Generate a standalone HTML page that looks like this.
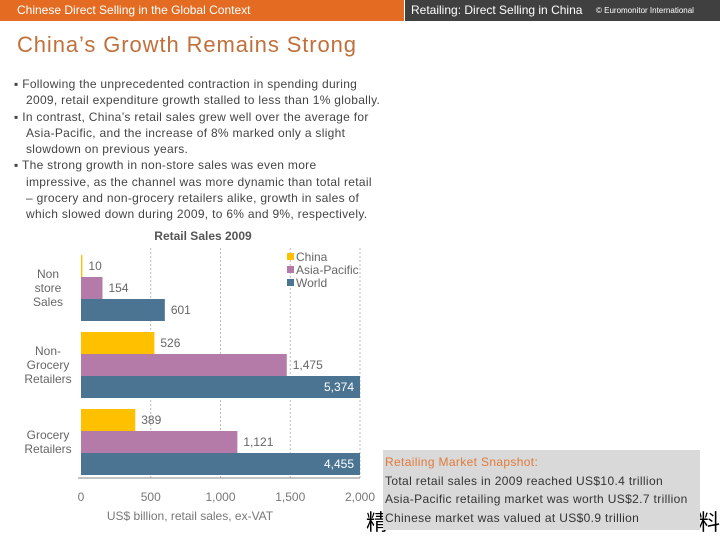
<!DOCTYPE html>
<html><head><meta charset="utf-8">
<style>
body{margin:0;width:720px;height:540px;background:#fff;position:relative;overflow:hidden;font-family:"Liberation Sans","Noto Sans CJK SC",sans-serif}
.hdr1{position:absolute;left:0;top:0;width:404px;height:21px;background:#e36c22;color:#fff;font-size:12px;line-height:21px;padding-left:17px;box-sizing:border-box}
.hdr2{position:absolute;left:405px;top:0;width:315px;height:21px;background:#404040;color:#fff;font-size:12px;line-height:21px;padding-left:6px;box-sizing:border-box}
.hdr2 small{font-size:8px;position:absolute;left:191px}
h1{position:absolute;left:17px;top:32px;margin:0;font-weight:normal;font-size:22px;letter-spacing:0.9px;color:#c0703a}
ul{position:absolute;left:14px;top:76px;margin:0;padding:0;list-style:none;width:385px;font-size:12px;line-height:16.3px;color:#444;letter-spacing:0.3px}
li{padding-left:12px;text-indent:-12px}
.snap{position:absolute;left:383px;top:450px;width:317px;height:80px;background:#d9d9d9;font-size:12px;line-height:18.5px;color:#333;padding:3px 0 0 2px;box-sizing:border-box;letter-spacing:0.35px;white-space:nowrap}
.snap .t{color:#e07b3c}
.cjk{position:absolute;top:505px;font-size:22px;color:#000}
</style></head><body>
<div class="hdr1">Chinese Direct Selling in the Global Context</div>
<div class="hdr2">Retailing: Direct Selling in China<small>© Euromonitor International</small></div>
<h1>China’s Growth Remains Strong</h1>
<ul>
<li>▪ Following the unprecedented contraction in spending during<br>2009, retail expenditure growth stalled to less than 1% globally.</li>
<li>▪ In contrast, China’s retail sales grew well over the average for<br>Asia-Pacific, and the increase of 8% marked only a slight<br>slowdown on previous years.</li>
<li>▪ The strong growth in non-store sales was even more<br>impressive, as the channel was more dynamic than total retail<br>– grocery and non-grocery retailers alike, growth in sales of<br>which slowed down during 2009, to 6% and 9%, respectively.</li>
</ul>
<svg id="chart" width="720" height="540" style="position:absolute;left:0;top:0" font-family="Liberation Sans, sans-serif"></svg>
<div class="cjk" style="left:366px">精</div>
<div class="cjk" style="left:698px">料</div>
<div class="snap">
<div class="t">Retailing Market Snapshot:</div>
<div>Total retail sales in 2009 reached US$10.4 trillion</div>
<div>Asia-Pacific retailing market was worth US$2.7 trillion</div>
<div>Chinese market was valued at US$0.9 trillion</div>
</div>
<script>
const categories=[["Non","store","Sales"],["Non-","Grocery","Retailers"],["Grocery","Retailers"]];
const seriesNames=["China","Asia-Pacific","World"];
const china=[10,526,389];
const asiaPacific=[154,1475,1121];
const world=[601,5374,4455];
const tickValues=[0,500,1000,1500,2000];
const tickLabels=["0","500","1,000","1,500","2,000"];
const colors=["#ffc000","#b47aa8","#4a7492"];
const svg=document.getElementById('chart');
const NS='http://www.w3.org/2000/svg';
const x0=81,x1=360,vmax=2000;
const xs=v=>x0+(Math.min(v,vmax)/vmax)*(x1-x0);
const groupTop=[255,332,409],barH=22;
function mk(t,a,txt){const e=document.createElementNS(NS,t);for(const k in a)e.setAttribute(k,a[k]);if(txt!==undefined)e.textContent=txt;svg.appendChild(e);return e;}
let e=mk('text',{x:203,y:240,'text-anchor':'middle','font-size':12,'font-weight':'bold',fill:'#555'},'Retail Sales 2009');


tickValues.forEach((v,i)=>{
 if(i>0){const g=mk('line',{x1:xs(v),x2:xs(v),y1:248,y2:478,stroke:'#bbb','stroke-dasharray':'2,2'});
 
 }
 const t=mk('text',{x:xs(v),y:501,'text-anchor':'middle','font-size':12,fill:'#777'},tickLabels[i]);
 
 
});
e=mk('line',{x1:78,x2:360,y1:478,y2:478,stroke:'#888'});


e=mk('text',{x:190,y:520,'text-anchor':'middle','font-size':12,fill:'#777'},'US$ billion, retail sales, ex-VAT');


const series=[china,asiaPacific,world];
categories.forEach((c,gi)=>{
 const cy=groupTop[gi]+33;
 c.forEach((ln,li)=>{const t=mk('text',{x:48,y:cy-(c.length-1)*7+li*14+4,'text-anchor':'middle','font-size':12,fill:'#666'},ln);
 
 });
 series.forEach((s,si)=>{
  const y=groupTop[gi]+si*barH,v=s[gi],w=Math.max(xs(v)-x0,1);
  const r=mk('rect',{x:x0,y:y,width:w,height:barH,fill:colors[si]});
  
  
  const inside=v>vmax;
  const t=mk('text',{x:inside?x1-6:xs(v)+6,y:y+15,'text-anchor':inside?'end':'start','font-size':12,fill:inside?'#fff':'#666'},v.toLocaleString('en-US'));
  
  
 });
});
seriesNames.forEach((n,i)=>{
 const y=257+i*13;
 const r=mk('rect',{x:287,y:y-4,width:7,height:7,fill:colors[i]});
 
 
 const t=mk('text',{x:296,y:y+4,'font-size':12,fill:'#666'},n);
 
 
});
</script>
</body></html>
